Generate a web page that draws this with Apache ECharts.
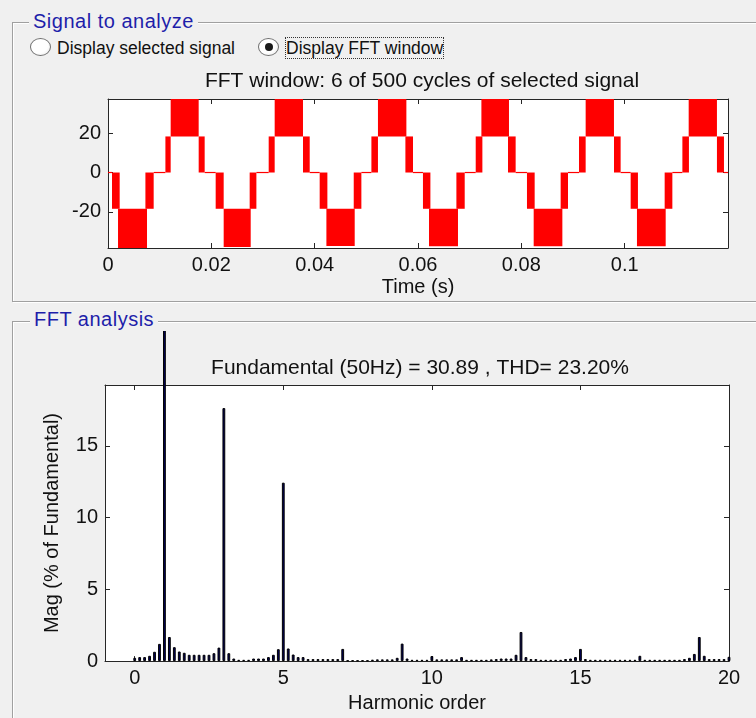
<!DOCTYPE html>
<html>
<head>
<meta charset="utf-8">
<title>FFT analysis</title>
<script src="https://cdn.jsdelivr.net/npm/echarts@6.0.0/dist/echarts.min.js"></script>
<style>
  html, body {
    margin: 0;
    padding: 0;
  }
  body {
    width: 756px;
    height: 718px;
    overflow: hidden;
    position: relative;
    background: #f0f0f0;
    font-family: 'Liberation Sans', Arial, sans-serif;
  }
  .panel {
    position: absolute;
    border: 1px solid #a0a0a0;
    box-shadow: inset 1px 1px 0 #fff, 1px 1px 0 #fff;
  }
  .legend {
    position: absolute;
    padding: 0 4px;
    background: #f0f0f0;
    color: #1e1eaa;
    font-size: 20px;
    line-height: 24px;
    letter-spacing: 0.5px;
  }
  .radio {
    position: absolute;
    width: 19px;
    height: 16px;
    border: 1px solid #6f6f6f;
    border-radius: 50%;
    background: radial-gradient(ellipse at 40% 40%, #fff 0, #fff 55%, #e4e4e4 100%);
  }
  .radio.on::after {
    content: '';
    position: absolute;
    left: 5.5px;
    top: 4px;
    width: 8px;
    height: 8px;
    border-radius: 50%;
    background: #1a1a1a;
  }
  .rlabel {
    position: absolute;
    font-size: 17.5px;
    line-height: 20px;
    color: #111;
    white-space: nowrap;
  }
  .rlabel.focus {
    outline: 1px dotted #333;
    outline-offset: 0;
  }
  .chart {
    position: absolute;
    left: 0;
    width: 756px;
  }
</style>
</head>
<body>
<div class="panel" style="left:12px;top:22px;width:780px;height:278px"></div>
<div class="legend" style="left:29px;top:9px">Signal to analyze</div>
<div class="panel" style="left:12px;top:321px;width:780px;height:420px"></div>
<div class="legend" style="left:30px;top:307px">FFT analysis</div>

<div class="radio" style="left:30px;top:38px"></div>
<div class="rlabel" style="left:57px;top:38px">Display selected signal</div>
<div class="radio on" style="left:258px;top:38px"></div>
<div class="rlabel focus" style="left:286px;top:38px">Display FFT window</div>

<div id="signal" class="chart" style="top:0;height:300px"></div>
<div id="fft" class="chart" style="top:331px;height:387px"></div>

<script>
// FFT window: 6 cycles of the inverter voltage (time in s)
const timeTicks = [0, 0.02, 0.04, 0.06, 0.08, 0.1]
const voltTicks = [-20, 0, 20]
const posStep = 18.3
const negStep = -18.4
const posPeak = 37.3

// signal sits at 0
const zeroRuns = [
  [0, 0.00077], [0.00884, 0.01111], [0.01871, 0.02084], [0.02872, 0.03110],
  [0.03904, 0.04097], [0.04904, 0.05098], [0.05903, 0.06096], [0.06904, 0.07117],
  [0.07890, 0.08109], [0.08903, 0.09116], [0.09922, 0.10116], [0.10923, 0.11117],
  [0.11922, 0.12]
]
// switching between 0 and the first negative level
const innerNeg = [
  [0.00077, 0.00226], [0.00724, 0.00884], [0.02084, 0.02239], [0.02742, 0.02872],
  [0.04097, 0.04246], [0.04756, 0.04904], [0.06096, 0.06240], [0.06743, 0.06904],
  [0.08109, 0.08258], [0.08761, 0.08903], [0.10116, 0.10257], [0.10774, 0.10923]
]
// switching between the first and second negative level [t0, t1, peak]
const outerNeg = [
  [0.00194, 0.00755, -38.3], [0.02239, 0.02762, -37.8], [0.04227, 0.04775, -37.3],
  [0.06213, 0.06774, -37.4], [0.08239, 0.08794, -37.4], [0.10238, 0.10794, -37.4]
]
// switching between 0 and the first positive level
const innerPos = [
  [0.01111, 0.01213], [0.01755, 0.01871], [0.03110, 0.03226], [0.03774, 0.03904],
  [0.05098, 0.05225], [0.05756, 0.05903], [0.07117, 0.07246], [0.07742, 0.07890],
  [0.09116, 0.09245], [0.09793, 0.09922], [0.11117, 0.11244], [0.11786, 0.11922]
]
// switching between the first and second positive level
const outerPos = [
  [0.01213, 0.01755], [0.03226, 0.03774], [0.05225, 0.05775],
  [0.07227, 0.07761], [0.09245, 0.09793], [0.11239, 0.11786]
]

// FFT bins, 1/6 harmonic apart (0 .. 20), % of fundamental
const harmonicTicks = [0, 5, 10, 15, 20]
const magTicks = [0, 5, 10, 15]
const binsPerHarmonic = 6
const magnitudes = [
  0.23, 0.28, 0.28, 0.37, 0.65, 1.2, 100, 1.68, 0.97, 0.67, 0.58, 0.44,
  0.44, 0.44, 0.44, 0.44, 0.55, 0.94, 17.64, 0.55, 0.18, 0.09, 0.09, 0.09,
  0.18, 0.18, 0.18, 0.28, 0.44, 0.83, 12.44, 0.88, 0.46, 0.28, 0.28, 0.14,
  0.14, 0.14, 0.14, 0.14, 0.14, 0.14, 0.85, 0.05, 0.05, 0.05, 0.05, 0.05,
  0.1, 0.12, 0.12, 0.12, 0.12, 0.23, 1.22, 0.18, 0.09, 0.09, 0.09, 0.09,
  0.35, 0.12, 0.12, 0.12, 0.12, 0.12, 0.28, 0.09, 0.09, 0.09, 0.09, 0.09,
  0.12, 0.14, 0.18, 0.18, 0.18, 0.44, 2.03, 0.28, 0.14, 0.14, 0.09, 0.09,
  0.09, 0.09, 0.09, 0.14, 0.18, 0.28, 0.85, 0.14, 0.09, 0.09, 0.09, 0.09,
  0.09, 0.09, 0.09, 0.09, 0.09, 0.09, 0.37, 0.09, 0.09, 0.09, 0.09, 0.09,
  0.09, 0.09, 0.09, 0.14, 0.23, 0.5, 1.68, 0.37, 0.14, 0.14, 0.14, 0.14,
  0.3
]

const font = 'Liberation Sans'
const ink = '#111'
const frame = '#262626'

function boxAxis (pos, min, max, ticks, withLabels) {
  return {
    type: 'value',
    position: pos,
    min: min,
    max: max,
    axisLine: { show: true, onZero: false, lineStyle: { color: frame, width: 1 } },
    axisTick: { show: true, inside: true, length: 5, customValues: ticks, lineStyle: { color: frame } },
    axisLabel: {
      show: withLabels,
      customValues: ticks,
      color: ink,
      fontFamily: font,
      fontSize: 20,
      margin: 7
    },
    splitLine: { show: false }
  }
}

// ---- top: FFT window waveform ----
const rects = [
  ...zeroRuns.map(r => [r[0], r[1], 0, 0]),
  ...innerNeg.map(r => [r[0], r[1], negStep, 0]),
  ...outerNeg.map(r => [r[0], r[1], r[2], negStep]),
  ...innerPos.map(r => [r[0], r[1], 0, posStep]),
  ...outerPos.map(r => [r[0], r[1], posStep, posPeak])
]

const signalChart = echarts.init(document.getElementById('signal'))
const yMinTop = -38.3
signalChart.setOption({
  animation: false,
  title: {
    text: 'FFT window: 6 of 500 cycles of selected signal',
    left: 417,
    top: 66,
    textAlign: 'center',
    textStyle: { color: ink, fontFamily: font, fontSize: 21, fontWeight: 'normal' }
  },
  grid: { left: 108, top: 99, right: 28, bottom: 52, show: true, backgroundColor: '#fff', borderWidth: 0 },
  xAxis: [
    Object.assign(boxAxis('bottom', 0, 0.12, timeTicks, true), {
      name: 'Time (s)',
      nameLocation: 'middle',
      nameGap: 29,
      nameTextStyle: { color: ink, fontFamily: font, fontSize: 20 }
    }),
    boxAxis('top', 0, 0.12, timeTicks, false)
  ],
  yAxis: [
    boxAxis('left', yMinTop, posPeak, voltTicks, true),
    boxAxis('right', yMinTop, posPeak, voltTicks, false)
  ],
  series: [{
    type: 'custom',
    data: rects,
    encode: { x: [0, 1], y: [2, 3] },
    renderItem: function (params, api) {
      const a = api.coord([api.value(0), api.value(3)])
      const b = api.coord([api.value(1), api.value(2)])
      let y = a[1]
      let h = b[1] - a[1]
      if (h < 1.2) {
        y -= 0.6
        h = 1.2
      }
      return {
        type: 'rect',
        shape: { x: a[0], y: y, width: b[0] - a[0], height: h },
        style: { fill: '#ff0000' }
      }
    }
  }]
})

// ---- bottom: FFT analysis ----
const bars = magnitudes.map((v, i) => [i / binsPerHarmonic, v])

const fftChart = echarts.init(document.getElementById('fft'))
fftChart.setOption({
  animation: false,
  title: {
    text: 'Fundamental (50Hz) = 30.89 , THD= 23.20%',
    left: 415,
    top: 22,
    textAlign: 'center',
    textStyle: { color: ink, fontFamily: font, fontSize: 21, fontWeight: 'normal' }
  },
  grid: { left: 105, top: 54, right: 27, bottom: 53, show: true, backgroundColor: '#fff', borderWidth: 0 },
  xAxis: [
    Object.assign(boxAxis('bottom', -1, 20, harmonicTicks, true), {
      name: 'Harmonic order',
      nameLocation: 'middle',
      nameGap: 29,
      nameTextStyle: { color: ink, fontFamily: font, fontSize: 20 }
    }),
    boxAxis('top', -1, 20, harmonicTicks, false)
  ],
  yAxis: [
    Object.assign(boxAxis('left', 0, 19.25, magTicks, true), {
      name: 'Mag (% of Fundamental)',
      nameLocation: 'middle',
      nameGap: 43,
      nameTextStyle: { color: ink, fontFamily: font, fontSize: 20 }
    }),
    boxAxis('right', 0, 19.25, magTicks, false)
  ],
  series: [{
    type: 'bar',
    data: bars,
    barWidth: 2.8,
    clip: false,
    itemStyle: { color: '#00005a', borderColor: '#000', borderWidth: 1 }
  }]
})
</script>
</body>
</html>
